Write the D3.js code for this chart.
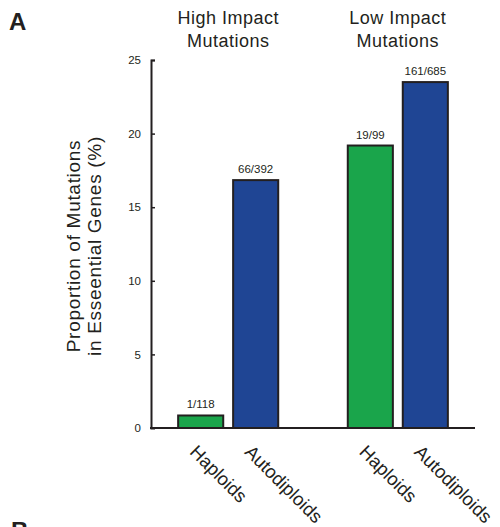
<!DOCTYPE html>
<html>
<head>
<meta charset="utf-8">
<script src="https://cdn.jsdelivr.net/npm/d3@7"></script>
<style>
  body { margin: 0; background: #fff; }
  text { font-family: "Liberation Sans", Arial, sans-serif; fill: #231f20; }
</style>
</head>
<body>
<div id="chart-container"></div>
<script>
// Chart data

const groups = ["High Impact", "Low Impact"];
const groupTitles = [["High Impact", "Mutations"], ["Low Impact", "Mutations"]];
const types = ["Haploids", "Autodiploids"];
const values = [ // percent of mutations in essential genes
    [0.85, 16.84],
    [19.19, 23.5]
];
const counts = [
    ["1/118", "66/392"],
    ["19/99", "161/685"]
];
const yTicks = [0, 5, 10, 15, 20, 25];

const colors = { Haploids: "#1aa54b", Autodiploids: "#1f4594" };

// Dimensions

const width = 500;
const height = 527;
const plot = { left: 151, right: 475, top: 60, bottom: 428 };

const svg = d3.select("#chart-container")
    .append("svg")
        .attr("width", width)
        .attr("height", height);

// Scales

const x0 = d3.scaleBand()
    .domain(groups)
    .range([plot.left, plot.right])
    .paddingInner(0.41)
    .paddingOuter(0.16);

const x1 = d3.scaleBand()
    .domain(types)
    .range([0, x0.bandwidth()])
    .paddingInner(0.18);

const y = d3.scaleLinear()
    .domain([0, 25])
    .range([plot.bottom, plot.top]);

// Flatten data for bars

const bars = [];
groups.forEach((g, i) => {
    types.forEach((t, j) => {
        bars.push({ group: g, type: t, value: values[i][j], label: counts[i][j] });
    });
});

// y-axis (ticks point inward)

const yAxis = svg.append("g")
    .attr("transform", `translate(${plot.left},0)`)
    .call(d3.axisLeft(y).tickValues(yTicks).tickSize(-4).tickPadding(10));

yAxis.select(".domain").attr("stroke", "#231f20").attr("stroke-width", 2);
yAxis.selectAll(".tick line").attr("stroke", "#231f20").attr("stroke-width", 1.5);
yAxis.selectAll(".tick text")
    .style("font-size", "11.5px")
    .style("font-family", "Liberation Sans, Arial, sans-serif")
    .attr("fill", "#333");
yAxis.selectAll(".tick").filter(d => d === 0).select("line").remove();

// bars

svg.append("g")
    .selectAll("rect")
    .data(bars)
    .join("rect")
        .attr("x", d => x0(d.group) + x1(d.type))
        .attr("y", d => y(d.value))
        .attr("width", x1.bandwidth())
        .attr("height", d => y(0) - y(d.value))
        .attr("fill", d => colors[d.type])
        .attr("stroke", "#231f20")
        .attr("stroke-width", 2);

// count labels above bars

svg.append("g")
    .selectAll("text")
    .data(bars)
    .join("text")
        .attr("x", d => x0(d.group) + x1(d.type) + x1.bandwidth() / 2)
        .attr("y", d => y(d.value) - 7)
        .attr("text-anchor", "middle")
        .style("font-size", "11.5px")
        .attr("fill", "#333")
        .text(d => d.label);

// x-axis line

svg.append("line")
    .attr("x1", plot.left - 1)
    .attr("x2", plot.right)
    .attr("y1", y(0))
    .attr("y2", y(0))
    .attr("stroke", "#231f20")
    .attr("stroke-width", 2);

// rotated category labels

svg.append("g")
    .selectAll("text")
    .data(bars)
    .join("text")
        .attr("transform", d => {
            const cx = x0(d.group) + x1(d.type) + x1.bandwidth() / 2;
            return `translate(${cx - 12},${y(0) + 25}) rotate(45)`;
        })
        .style("font-size", "18.5px")
        .text(d => d.type);

// group titles

groups.forEach((g, i) => {
    const t = svg.append("text")
        .attr("x", x0(g) + x0.bandwidth() / 2)
        .attr("y", 24)
        .attr("text-anchor", "middle")
        .style("font-size", "18px")
        .style("letter-spacing", "0.5px");
    groupTitles[i].forEach((line, k) => {
        t.append("tspan")
            .attr("x", x0(g) + x0.bandwidth() / 2)
            .attr("dy", k === 0 ? 0 : 23)
            .text(line);
    });
});

// y-axis title

const yTitle = svg.append("text")
    .attr("transform", `translate(80,${(plot.top + plot.bottom) / 2 + 2}) rotate(-90)`)
    .attr("text-anchor", "middle")
    .style("font-size", "19px")
    .style("letter-spacing", "0.7px");
yTitle.append("tspan").attr("x", 0).attr("dy", 0).text("Proportion of Mutations");
yTitle.append("tspan").attr("x", 0).attr("dy", 21).text("in Esseential Genes (%)");

// panel letters

svg.append("text")
    .attr("x", 9)
    .attr("y", 30)
    .style("font-size", "24px")
    .style("font-weight", "bold")
    .text("A");

svg.append("text")
    .attr("x", 11)
    .attr("y", 539)
    .style("font-size", "24px")
    .style("font-weight", "bold")
    .text("B");
</script>
</body>
</html>
